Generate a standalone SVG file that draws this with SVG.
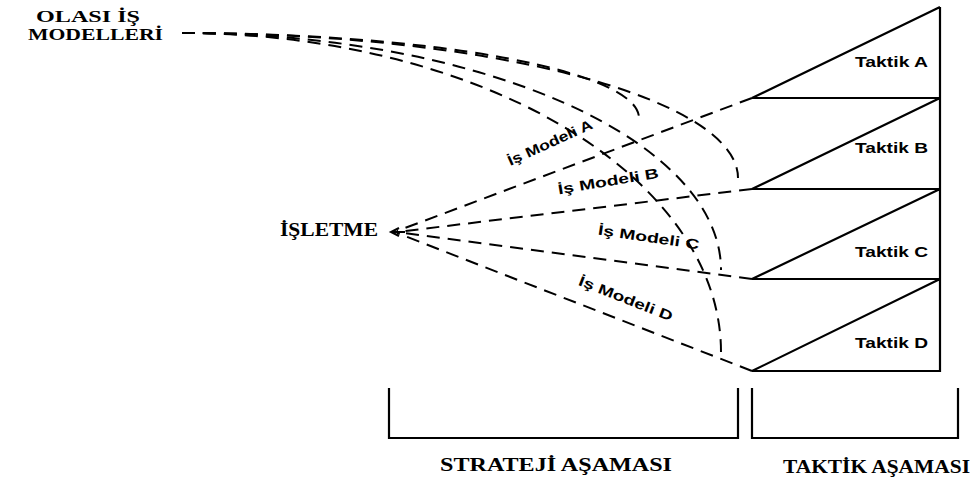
<svg xmlns="http://www.w3.org/2000/svg" width="978" height="481" viewBox="0 0 978 481">
<style>
.dash{fill:none;stroke:#000;stroke-width:2;stroke-dasharray:13 8}
.solid{fill:none;stroke:#000;stroke-width:2.2}
.serif{font-family:"Liberation Serif","Times New Roman",serif;font-weight:bold;font-size:18px;fill:#000}
.head{font-size:16px}
.sans{font-family:"Liberation Sans",Arial,sans-serif;font-weight:bold;font-size:14px;fill:#000}
</style>
<rect width="978" height="481" fill="#fff"/>
<g id="olasi">
<text class="serif head" x="36" y="22" textLength="104" lengthAdjust="spacingAndGlyphs">OLASI İŞ</text>
<text class="serif head" x="28" y="40" textLength="135" lengthAdjust="spacingAndGlyphs">MODELLERİ</text>
</g>
<g id="isletme">
<text class="serif" x="280" y="236" textLength="98" lengthAdjust="spacingAndGlyphs">İŞLETME</text>
</g>
<g id="taktik-stack">
<path class="solid" d="M940,7 V371 H752 L940,279 M752,279 H940 M752,279 L940,189 M752,189 H940 M752,189 L940,98 M752,98 H940 M752,98 L940,7"/>
<text class="sans" x="855" y="67" textLength="73" lengthAdjust="spacingAndGlyphs">Taktik A</text>
<text class="sans" x="855" y="153" textLength="73" lengthAdjust="spacingAndGlyphs">Taktik B</text>
<text class="sans" x="855" y="257" textLength="73" lengthAdjust="spacingAndGlyphs">Taktik C</text>
<text class="sans" x="855" y="348" textLength="73" lengthAdjust="spacingAndGlyphs">Taktik D</text>
</g>
<g id="connectors">
<path class="dash" d="M182,33 A457,85 0 0 1 639,118"/>
<path class="dash" d="M182,33 A556,145 0 0 1 738,178"/>
<path class="dash" d="M182,33 A539,237 0 0 1 721,270"/>
<path class="dash" d="M182,33 A539,319 0 0 1 721,352"/>
<path class="dash" d="M752,98 L397,231"/>
<path class="dash" d="M752,189 L397,232"/>
<path class="dash" d="M752,279 L397,232"/>
<path class="dash" d="M752,371 L397,233"/>
<path d="M405,232 H392 M399,228 L391,232 L399,236" fill="none" stroke="#000" stroke-width="2"/>
</g>
<g id="labels">
<text class="sans" transform="translate(552,147) rotate(-24.5)" text-anchor="middle" textLength="92" lengthAdjust="spacingAndGlyphs">İş Modeli A</text>
<text class="sans" transform="translate(609,186) rotate(-9.5)" text-anchor="middle" textLength="102" lengthAdjust="spacingAndGlyphs">İş Modeli B</text>
<text class="sans" transform="translate(648,242) rotate(8.4)" text-anchor="middle" textLength="102" lengthAdjust="spacingAndGlyphs">İş Modeli C</text>
<text class="sans" transform="translate(624,303) rotate(21.5)" text-anchor="middle" textLength="100" lengthAdjust="spacingAndGlyphs">İş Modeli D</text>
</g>
<g id="strateji">
<path class="solid" d="M389,388 V438 H738 V388"/>
<text class="serif" x="440" y="471" textLength="232" lengthAdjust="spacingAndGlyphs">STRATEJİ AŞAMASI</text>
</g>
<g id="taktik">
<path class="solid" d="M752,388 V438 H958 V388"/>
<text class="serif" x="783" y="473" textLength="187" lengthAdjust="spacingAndGlyphs">TAKTİK AŞAMASI</text>
</g>
</svg>
